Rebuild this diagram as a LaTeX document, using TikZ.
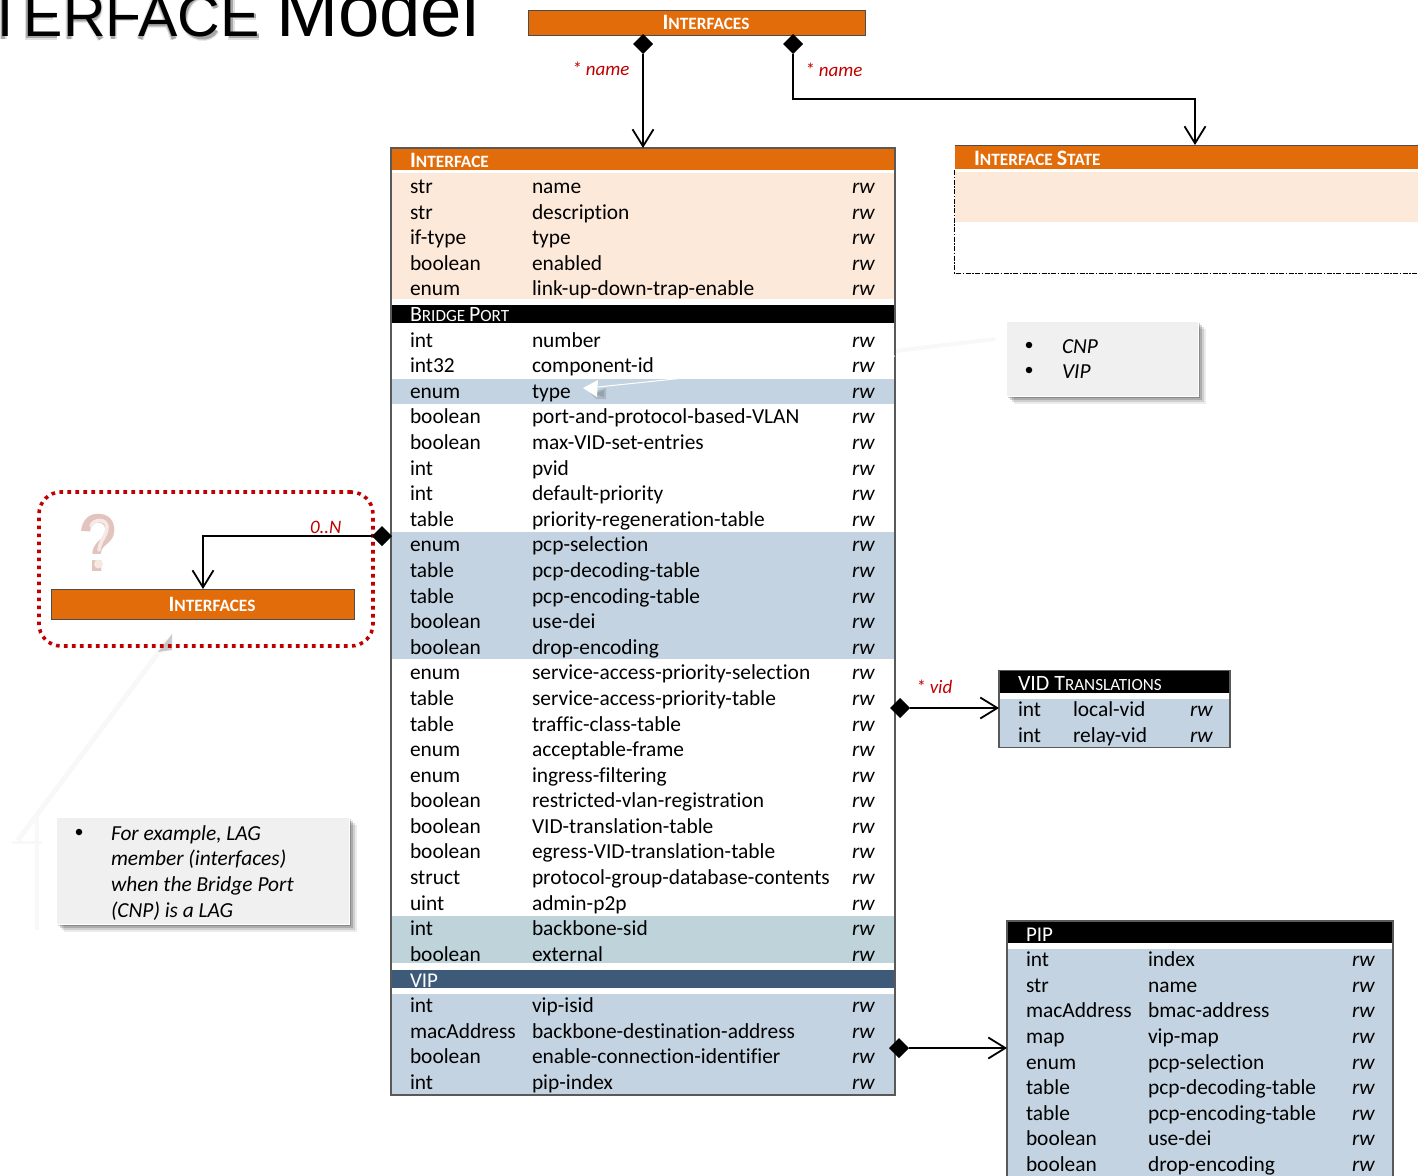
\documentclass[tikz,border=0pt]{standalone}
\usepackage{fontspec}
\setmainfont{Carlito}[Ligatures={NoCommon,NoContextual}]
\newfontfamily\titlefont{Liberation Sans}
\usetikzlibrary{shapes.geometric,arrows.meta}
\definecolor{orangeh}{HTML}{E36C0A}
\definecolor{peach}{HTML}{FDE9D9}
\definecolor{blueband}{HTML}{C3D3E1}
\definecolor{tealband}{HTML}{BFD3DB}
\definecolor{viphead}{HTML}{3D5B78}
\definecolor{redlbl}{HTML}{C00000}
\definecolor{calloutbg}{HTML}{F0F0F0}
\definecolor{faintline}{HTML}{F8F8F8}
\definecolor{qouter}{HTML}{E2C3BD}
\definecolor{qinner}{HTML}{F5E9E6}
\newcommand{\fsz}[1]{\fontsize{#1}{#1}\selectfont}
\newcommand{\capsb}[2]{{\bfseries\fsz{22}#1\fsz{17.3}#2}}
\newcommand{\capsr}[2]{{\fsz{21.9}#1\fsz{17.1}#2}}
\newcommand{\titleshadow}{%
  \draw (-20,-7) -- (20,-7) (0,-7) -- (0,36);
  \draw (53,-7) -- (25,-7) -- (25,33) -- (54,33) (25,13) -- (50,13);
  \draw (66,36) -- (66,-7) -- (88,-7) .. controls (99,-7) and (99,16) .. (88,16) -- (66,16) (86,16) -- (98,36);
  \draw (110,36) -- (110,-7) -- (133,-7) (110,14) -- (130,14);
  \draw (137,36) -- (154,-8) -- (171,36) (143,21) -- (165,21);
  \draw (213,27) .. controls (208,38) and (185,38) .. (181,18) .. controls (183,-12) and (208,-12) .. (213,5);
  \draw (255,-7) -- (228,-7) -- (228,33) -- (256,33) (228,13) -- (253,13);
}
\tikzset{
  x=1pt,y=-1pt,
  every node/.style={inner sep=0pt,outer sep=0pt},
  cell/.style={anchor=base west,font=\fsz{21.4},text=black},
  rwcell/.style={anchor=base west,font=\fsz{21.4}\itshape,text=black},
  hdrtext/.style={anchor=base west,text=white},
  hdrcenter/.style={anchor=base,text=white},
  redtext/.style={anchor=base west,text=redlbl,font=\fsz{19}\itshape},
  callouttext/.style={anchor=base west,font=\fsz{21.4}\itshape,text=black},
  hbar/.style={rectangle,fill=orangeh,draw=black!70,line width=1pt,anchor=north west},
  tablebox/.style={rectangle,draw=black!65,line width=1.2pt,anchor=north west},
  comp/.style={diamond,fill=black,minimum width=20pt,minimum height=20pt,shape aspect=1},
  conn/.style={draw=black,line width=1.8pt,-{Straight Barb[length=17pt,width=21pt,line width=1.8pt]}},
  bullet/.style={circle,fill=black,minimum size=6.5pt},
  calloutbox/.style={rectangle,fill=calloutbg,draw=white,line width=1pt,anchor=north west},
}
\begin{document}
\begin{tikzpicture}
\clip (0,0) rectangle (1418,1175);
\fill[white] (0,0) rectangle (1418,1175);

% title with its soft shadow
\begin{scope}[xshift=3pt,yshift=-3pt,draw=black,line width=7pt,opacity=.12]\titleshadow\end{scope}
\begin{scope}[xshift=3pt,yshift=-3pt,draw=black,line width=4.5pt,opacity=.25]\titleshadow\end{scope}
\node[anchor=base east,text=black,font=\titlefont] (title) at (479,36) {\fsz{59}TERFACE \fsz{74.5}Model};

% faint callout leaders
\draw[faintline,line width=5pt] (168,640) -- (18,840);
\draw[faintline,line width=3pt] (12,842) -- (42,842);
\draw[faintline,line width=4pt] (37,812) -- (37,930);
\draw[faintline,line width=4pt] (995,339) -- (895,351);
\fill[black!50,opacity=.4] (158,652) -- (172,634) -- (172,650) -- cycle;

% Interfaces top box
\node[hbar,minimum width=337pt,minimum height=25pt] (ifs) at (528,10) {};
\node[hdrcenter] (ifstext) at (706,29) {\capsb{I}{NTERFACES}};

% Interface main table
\fill[orangeh] (391,148) rectangle (895,170);
\fill[peach] (391,173) rectangle (895,299);
\fill[black] (391,305) rectangle (895,323);
\fill[blueband] (391,379) rectangle (895,404);
\fill[blueband] (391,532) rectangle (895,659);
\fill[tealband] (391,916) rectangle (895,963);
\fill[viphead] (391,970) rectangle (895,988);
\fill[blueband] (391,994) rectangle (895,1095);
\node[tablebox,minimum width=504pt,minimum height=947pt] (iface) at (391,148) {};
\node[hdrtext] (ifacehdr) at (410,167) {\capsb{I}{NTERFACE}};
\node[hdrtext] (bridgehdr) at (410,321) {\capsr{B}{RIDGE }\capsr{P}{ORT}};
\node[hdrtext,font=\fsz{21}] (viphdr) at (410,987) {VIP};
\foreach \yy/\ty/\nm [count=\i] in {
187/str/name,213/str/description,238/if-type/type,264/boolean/enabled,289/enum/link-up-down-trap-enable,
341/int/number,366/int32/component-id,392/enum/type,417/boolean/port-and-protocol-based-VLAN,443/boolean/max-VID-set-entries,
469/int/pvid,494/int/default-priority,520/table/priority-regeneration-table,545/enum/pcp-selection,571/table/pcp-decoding-table,
597/table/pcp-encoding-table,622/boolean/use-dei,648/boolean/drop-encoding,673/enum/service-access-priority-selection,699/table/service-access-priority-table,
725/table/traffic-class-table,750/enum/acceptable-frame,776/enum/ingress-filtering,801/boolean/restricted-vlan-registration,827/boolean/VID-translation-table,
852/boolean/egress-VID-translation-table,878/struct/protocol-group-database-contents,904/uint/admin-p2p,929/int/backbone-sid,955/boolean/external,
1006/int/vip-isid,1032/macAddress/backbone-destination-address,1057/boolean/enable-connection-identifier,1083/int/pip-index}{
  \node[cell] (mt\i) at (410,\yy+6.6) {\ty};
  \node[cell] (mn\i) at (532,\yy+6.6) {\nm};
  \node[rwcell] (mr\i) at (852,\yy+6.6) {rw};
}

% Interface state
\fill[orangeh] (954.5,145) rectangle (1425,169);
\draw[black!70,line width=1pt] (954.5,145) -- (1425,145);
\fill[peach] (955,172) rectangle (1425,222);
\draw[black,line width=1pt,dash pattern=on 5pt off 1.5pt on 1.5pt off 1.5pt] (954.5,170) -- (954.5,273) -- (1425,273);
\node[hdrtext] (statehdr) at (974,165) {\capsb{I}{NTERFACE }\capsb{S}{TATE}};
\coordinate (stateTop) at (1195,145);

% VID translations
\fill[black] (999,670) rectangle (1230,693);
\fill[blueband] (999,699) rectangle (1230,748);
\node[tablebox,minimum width=231pt,minimum height=77pt] (vid) at (999,670.5) {};
\node[hdrtext] (vidhdr) at (1018,690) {\capsr{VID T}{RANSLATIONS}};
\foreach \yy/\ty/\nm [count=\i] in {709.5/int/local-vid,735.5/int/relay-vid}{
  \node[cell] (vt\i) at (1018,\yy+6.6) {\ty};
  \node[cell] (vn\i) at (1073,\yy+6.6) {\nm};
  \node[rwcell] (vr\i) at (1190,\yy+6.6) {rw};
}

% PIP
\fill[black] (1007,921) rectangle (1393,943);
\fill[blueband] (1007,949) rectangle (1393,1180);
\node[tablebox,minimum width=386pt,minimum height=270pt] (pip) at (1007,921) {};
\node[hdrtext,font=\fsz{21}] (piphdr) at (1026,941) {PIP};
\foreach \yy/\ty/\nm [count=\i] in {960/int/index,986/str/name,1011/macAddress/bmac-address,1037/map/vip-map,1063/enum/pcp-selection,1088/table/pcp-decoding-table,1114/table/pcp-encoding-table,1139/boolean/use-dei,1165/boolean/drop-encoding}{
  \node[cell] (pt\i) at (1026,\yy+6.6) {\ty};
  \node[cell] (pn\i) at (1148,\yy+6.6) {\nm};
  \node[rwcell] (pr\i) at (1352,\yy+6.6) {rw};
}

% left group
\node[rectangle,rounded corners=22pt,draw=redlbl,line width=3.6pt,dash pattern=on 3.6pt off 4.4pt,anchor=north west,minimum width=334pt,minimum height=154pt] (group) at (39,492) {};
\node[hbar,minimum width=303pt,minimum height=30pt] (leftifs) at (51,589) {};
\node[hdrcenter] (leftifstext) at (212,611) {\capsb{I}{NTERFACES}};
\node[anchor=center,transform shape,xscale=.8,text=qouter,font=\titlefont\bfseries\fsz{82}] (qm) at (99,542.5) {?};
\draw[qinner,line width=3.6pt,line cap=round] (91,526) .. controls (93,519) and (107,518) .. (107,527) .. controls (107,536) and (100,540) .. (99,550);
\fill[qinner] (98.5,564) circle (4.5pt);

% diamonds
\node[comp] (d1) at (643,44) {};
\node[comp] (d2) at (793,44) {};
\node[comp] (d3) at (900,708) {};
\node[comp] (d4) at (899,1048) {};
\node[comp] (d5) at (382,536) {};

% connectors
\draw[conn] (d1.south) -- (d1.south |- iface.north);
\draw[conn] (d2.south) -- (793,99) -- (1195,99) -- (stateTop);
\draw[conn] (d3.east) -- (vid.west |- d3.east);
\draw[conn] (d4.east) -- (pip.west |- d4.east);
\draw[conn] (d5.west) -- (203,536) -- (203,589);

% labels
\node[redtext] (l1) at (572,75) {* name};
\node[redtext] (l2) at (805,76) {* name};
\node[redtext] (l3) at (916,693) {* vid};
\node[redtext] (l4) at (310,533) {0..N};

% callouts
\foreach \o/\a in {8/.08,6/.12,4/.16,2/.2}{
  \fill[black,opacity=\a] (1006+\o,321+\o) rectangle (1198+\o,396+\o);
  \fill[black,opacity=\a] (56+\o,817+\o) rectangle (349+\o,924+\o);
}
\node[calloutbox,minimum width=192pt,minimum height=75pt] (cnpbox) at (1006.5,321.5) {};
\node[bullet] (cb1) at (1029,345) {};
\node[bullet] (cb2) at (1029,370) {};
\node[callouttext] (ct1) at (1062,353) {CNP};
\node[callouttext] (ct2) at (1062,378) {VIP};
\node[calloutbox,minimum width=293pt,minimum height=107pt] (lagbox) at (56.5,817.5) {};
\node[bullet] (lb1) at (79,832) {};
\node[callouttext] (lt1) at (111,840) {For example, LAG};
\node[callouttext] (lt2) at (111,865.5) {member (interfaces)};
\node[callouttext] (lt3) at (111,891) {when the Bridge Port};
\node[callouttext] (lt4) at (111,917) {(CNP) is a LAG};

% white callout pointer on the type row
\coordinate (tipType) at (583,388);
\fill[black,opacity=.12] (590,393) -- (606,388) -- (606,399) -- (596,399) -- cycle;
\fill[black,opacity=.12] (594,394) -- (604,390) -- (604,397) -- cycle;
\draw[white,line width=1pt] (895,356) -- (598,387);
\fill[white] (tipType) -- (598,380) -- (597,397) -- cycle;
\end{tikzpicture}
\end{document}
